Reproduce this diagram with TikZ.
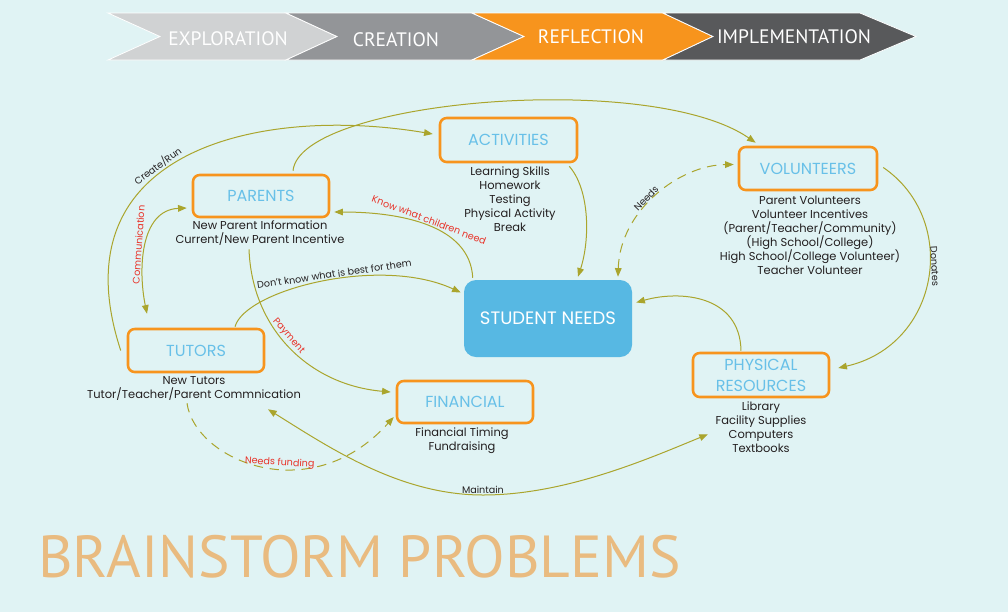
\documentclass[tikz,border=0pt]{standalone}
\usepackage{fontspec}
\setmainfont{Poppins}
\newfontfamily\bannerfont{PT Sans}
\usetikzlibrary{arrows.meta,calc}
\definecolor{bg}{RGB}{224,243,244}
\definecolor{boxorange}{RGB}{247,148,29}
\definecolor{titleblue}{RGB}{104,192,232}
\definecolor{snblue}{RGB}{87,184,227}
\definecolor{olive}{RGB}{170,165,45}
\definecolor{lblred}{RGB}{232,50,40}
\definecolor{txtdark}{RGB}{35,31,32}
\definecolor{chevA}{RGB}{208,210,211}
\definecolor{chevB}{RGB}{147,149,152}
\definecolor{chevC}{RGB}{247,148,29}
\definecolor{chevD}{RGB}{88,89,91}
\definecolor{titletan}{RGB}{233,187,128}
\begin{document}
\begin{tikzpicture}[x=0.75pt,y=-0.75pt,
  >={Triangle[length=6.5pt,width=5pt]},
  chev/.style={draw=white,line width=0.6pt},
  chevtxt/.style={text=white,font=\bannerfont\fontsize{14.6}{17}\selectfont,inner sep=0pt,anchor=base},
  obox/.style={draw=boxorange,line width=1.9pt,rounded corners=5pt,text=titleblue,
    font=\fontsize{12}{15.75}\selectfont,inner sep=0pt,align=center},
  subtxt/.style={text=txtdark,font=\fontsize{8.6}{10.5}\selectfont,align=center,inner sep=0pt},
  conn/.style={olive,line width=0.75pt},
  dashconn/.style={conn,dash pattern=on 7pt off 5pt},
  lbl/.style={text=txtdark,font=\fontsize{7.2}{9}\selectfont,sloped,inner sep=1pt},
  redlbl/.style={lbl,text=lblred},
  fixlbl/.style={text=txtdark,font=\fontsize{7.2}{9}\selectfont,inner sep=1pt},
  redfix/.style={fixlbl,text=lblred}]
\useasboundingbox (0,0) rectangle (1008,612);
\fill[bg] (0,0) rectangle (1008,612);
% banner
\filldraw[chev,fill=chevA] (108,13) -- (286,13) -- (337,36.5) -- (286,60) -- (108,60) -- (160,36.5) -- cycle;
\filldraw[chev,fill=chevB] (286,13) -- (472,13) -- (524,36.5) -- (472,60) -- (286,60) -- (337,36.5) -- cycle;
\filldraw[chev,fill=chevC] (472,13) -- (663,13) -- (713,36.5) -- (663,60) -- (472,60) -- (524,36.5) -- cycle;
\filldraw[chev,fill=chevD] (663,13) -- (860,13) -- (916,36.5) -- (860,60) -- (663,60) -- (713,36.5) -- cycle;
\node[chevtxt] (bexp) at (228,45) {EXPLORATION};
\node[chevtxt] (bcre) at (396,46) {CREATION};
\node[chevtxt] (bref) at (591,43) {REFLECTION};
\node[chevtxt] (bimp) at (794,43) {IMPLEMENTATION};
% boxes
\node[obox,minimum width=102pt,minimum height=31.5pt] (parents) at (261,196) {PARENTS};
\node[obox,minimum width=102.75pt,minimum height=33pt] (activities) at (508.5,140) {ACTIVITIES};
\node[obox,minimum width=103.5pt,minimum height=32.25pt] (volunteers) at (808,168.5) {VOLUNTEERS};
\node[obox,minimum width=102pt,minimum height=32.25pt] (tutors) at (196,350.5) {TUTORS};
\node[obox,minimum width=102pt,minimum height=31.5pt] (financial) at (465,402) {FINANCIAL};
\node[obox,minimum width=102pt,minimum height=33pt] (physres) at (761,375) {PHYSICAL\\RESOURCES};
\node[fill=snblue,rounded corners=9pt,minimum width=126pt,minimum height=57.75pt,inner sep=0pt,
  text=white,font=\fontsize{13.5}{16}\selectfont] (student) at (548,318.5) {STUDENT NEEDS};
% sub texts
\node[subtxt] (parentsub) at (260,233.5) {New Parent Information\\Current/New Parent Incentive};
\node[subtxt] (actsub) at (510,199) {Learning Skills\\Homework\\Testing\\Physical Activity\\Break};
\node[subtxt] (volsub) at (810,235) {Parent Volunteers\\Volunteer Incentives\\(Parent/Teacher/Community)\\(High School/College)\\High School/College Volunteer)\\Teacher Volunteer};
\node[subtxt] (tutsub) at (194,388) {New Tutors\\Tutor/Teacher/Parent Commnication};
\node[subtxt] (finsub) at (462,440.5) {Financial Timing\\Fundraising};
\node[subtxt] (physub) at (761,427.5) {Library\\Facility Supplies\\Computers\\Textbooks};
% title
\node[anchor=base west,text=titletan,font=\bannerfont\fontsize{44.5}{52}\selectfont,inner sep=0pt] (title) at (38,577) {BRAINSTORM PROBLEMS};
% connectors
\draw[conn,->] ($(tutors.west)+(-6,0)$) .. controls (55,150) and (260,105) ..
  node[lbl,pos=0.43,above] {Create/Run} ($(activities.west)+(-6,-6)$);
\draw[conn,->] ($(parents.north)+(32,-3)$) .. controls (300,100) and (650,70) .. ($(volunteers.north west)+(18,-3)$);
\draw[conn,->] ($(activities.south east)+(-9,3)$) .. controls (590,190) and (590,240) .. ($(student.north)+(30,-3)$);
\draw[dashconn,<->] ($(student.north)+(70,-3)$) .. controls (620,210) and (680,165) ..
  node[lbl,pos=0.45,above] {Needs} ($(volunteers.west)+(-4,-4)$);
\draw[conn,->] ($(volunteers.east)+(5,-1)$) .. controls (960,220) and (940,345) ..
  node[fixlbl,pos=0.45,anchor=south,rotate=-87] {Donates} ($(physres.east)+(8,-7)$);
\draw[conn,->] ($(physres.north)+(-20,-1)$) .. controls (740,295) and (680,290) .. ($(student.east)+(4,-16)$);
\draw[conn,->] ($(student.north west)+(9,-2)$) .. controls (470,225) and (400,212) ..
  node[redlbl,pos=0.5,above] {Know what children need} ($(parents.east)+(4,16)$);
\draw[conn,->] ($(tutors.north)+(39,-1)$) .. controls (245,290) and (380,255) ..
  node[lbl,pos=0.55,above] {Don't know what is best for them} ($(student.west)+(-3,-26)$);
\draw[conn,->] ($(parents.south)+(-12,31)$) .. controls (252,330) and (310,385) ..
  node[redlbl,pos=0.45,above] {Payment} ($(financial.west)+(-5,-10)$);
\draw[dashconn,->] ($(tutors.south)+(-9,30)$) .. controls (195,460) and (310,510) ..
  node[redlbl,pos=0.57,above,inner sep=0pt] {Needs funding} ($(financial.west)+(-2,15)$);
\draw[conn,<->] ($(tutors.south)+(72,36)$) .. controls (330,448) and (400,495) .. (483,495)
  node[fixlbl,above] (maint) {Maintain}
  .. controls (566,495) and (650,458) .. ($(physres.south)+(-53,36)$);
\draw[conn,<->] ($(parents.west)+(-5,12)$) .. controls (140,210) and (138,270) ..
  node[redfix,pos=0.5,anchor=south,rotate=86,inner sep=2.5pt] {Communication} ($(tutors.north)+(-49,-14)$);
\end{tikzpicture}
\end{document}
